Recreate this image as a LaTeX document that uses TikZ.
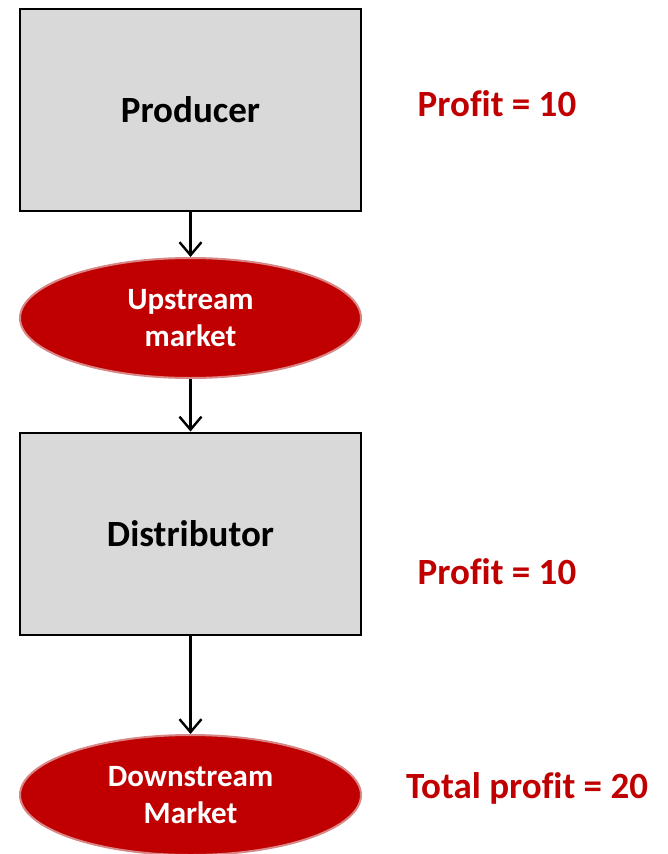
\documentclass[tikz,border=0pt]{standalone}
\usepackage{fontspec}
\setmainfont[Ligatures=NoCommon]{Carlito}
\usetikzlibrary{shapes.geometric,arrows.meta}
\definecolor{boxgray}{HTML}{D9D9D9}
\definecolor{deepred}{HTML}{C00000}
\definecolor{rimred}{HTML}{D98686}
\begin{document}
\begin{tikzpicture}[x=1pt,y=-1pt,
  stage/.style={draw=black,line width=2pt,fill=boxgray,minimum width=341pt,minimum height=202pt,
    inner sep=0pt,font=\fontsize{37}{44}\selectfont\bfseries},
  market/.style={ellipse,draw=rimred,line width=2pt,fill=deepred,minimum width=341pt,minimum height=120pt,
    inner sep=0pt,align=center,text=white,font=\fontsize{31}{37}\selectfont\bfseries},
  profit/.style={text=deepred,inner sep=0pt,font=\fontsize{37}{44}\selectfont\bfseries},
  flow/.style={draw=black,line width=2.4pt,-{Straight Barb[length=13pt,width=22pt,line width=2.4pt]}}]
\useasboundingbox (0,0) rectangle (667,854);
\node[stage] (prod) at (190.5,110) {Producer};
\node[market] (up) at (190.5,318) {Upstream\\market};
\node[stage] (dist) at (190.5,533.5) {Distributor};
\node[market] (down) at (190.5,795) {Downstream\\Market};
\node[profit] (p1) at (497,104) {Profit = 10};
\node[profit] (p2) at (497,572) {Profit = 10};
\node[profit] (p3) at (527,788) {Total profit = 20};
\draw[flow] (prod) -- (up);
\draw[flow] (up) -- (dist);
\draw[flow] (dist) -- (down);
\end{tikzpicture}
\end{document}
